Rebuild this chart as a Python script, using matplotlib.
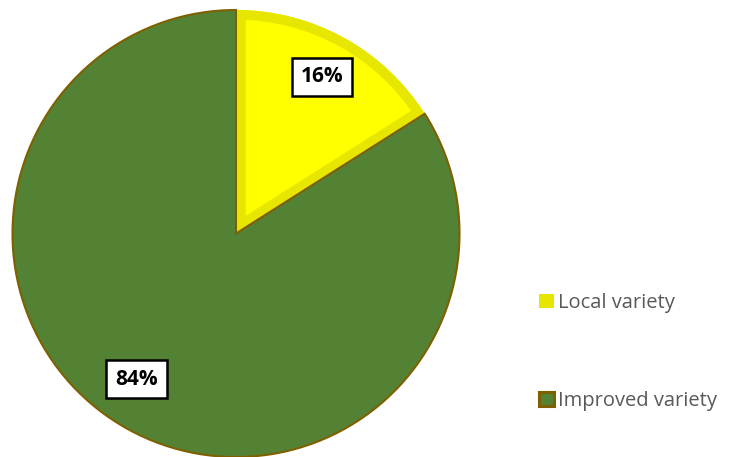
import matplotlib.pyplot as plt
from matplotlib.patches import Patch, Wedge

# dados
labels = ['Local variety', 'Improved variety']
shares = [16, 84]
fills = ['#FFFF00', '#548235']
edges = ['#E6E600', '#7F6000']

fig = plt.figure(figsize=(7.3, 4.57), dpi=100)
ax = fig.add_axes([12 / 730, 0, 448 / 730, 447 / 457])

wedges, texts, autotexts = ax.pie(
    shares, colors=fills, startangle=90, counterclock=False, radius=1,
    autopct='%1.0f%%', pctdistance=0.8,
    textprops=dict(fontsize=15, fontweight='bold', family='Open Sans', color='black'))

# fatia amarela com borda interna mais escura
yel = wedges[0]
yel.set_facecolor(edges[0])
yel.set_linewidth(0)
inner = Wedge(yel.center, yel.r, yel.theta1, yel.theta2, facecolor=fills[0],
              edgecolor=edges[0], linewidth=14, zorder=1.5)
ax.add_patch(inner)
inner.set_clip_path(yel)

grn = wedges[1]
grn.set_edgecolor(edges[1])
grn.set_linewidth(1.5)
grn.set_zorder(2)

for t in autotexts:
    t.set_zorder(5)
    t.set_bbox(dict(boxstyle='square,pad=0.42', facecolor='white',
                    edgecolor='black', linewidth=1.8))
# ajuste do rótulo 84%
x, y = autotexts[1].get_position()
autotexts[1].set_position((x - 0.06, y + 0.05))

ax.set_xlim(-1, 1)
ax.set_ylim(-1, 1)
ax.set_aspect('equal')

handles = [Patch(facecolor=edges[0], edgecolor=edges[0], linewidth=0),
           Patch(facecolor=fills[1], edgecolor=edges[1], linewidth=2.2)]
leg = fig.legend(handles, labels, loc='center left', bbox_to_anchor=(521 / 730, 1 - 352 / 457),
                 frameon=False, handlelength=0.72, handleheight=0.72, handletextpad=0.2,
                 labelspacing=3.9, prop=dict(family='Open Sans', size=14.5))
for t in leg.get_texts():
    t.set_color('#595959')

plt.savefig('out.png', dpi=100)
